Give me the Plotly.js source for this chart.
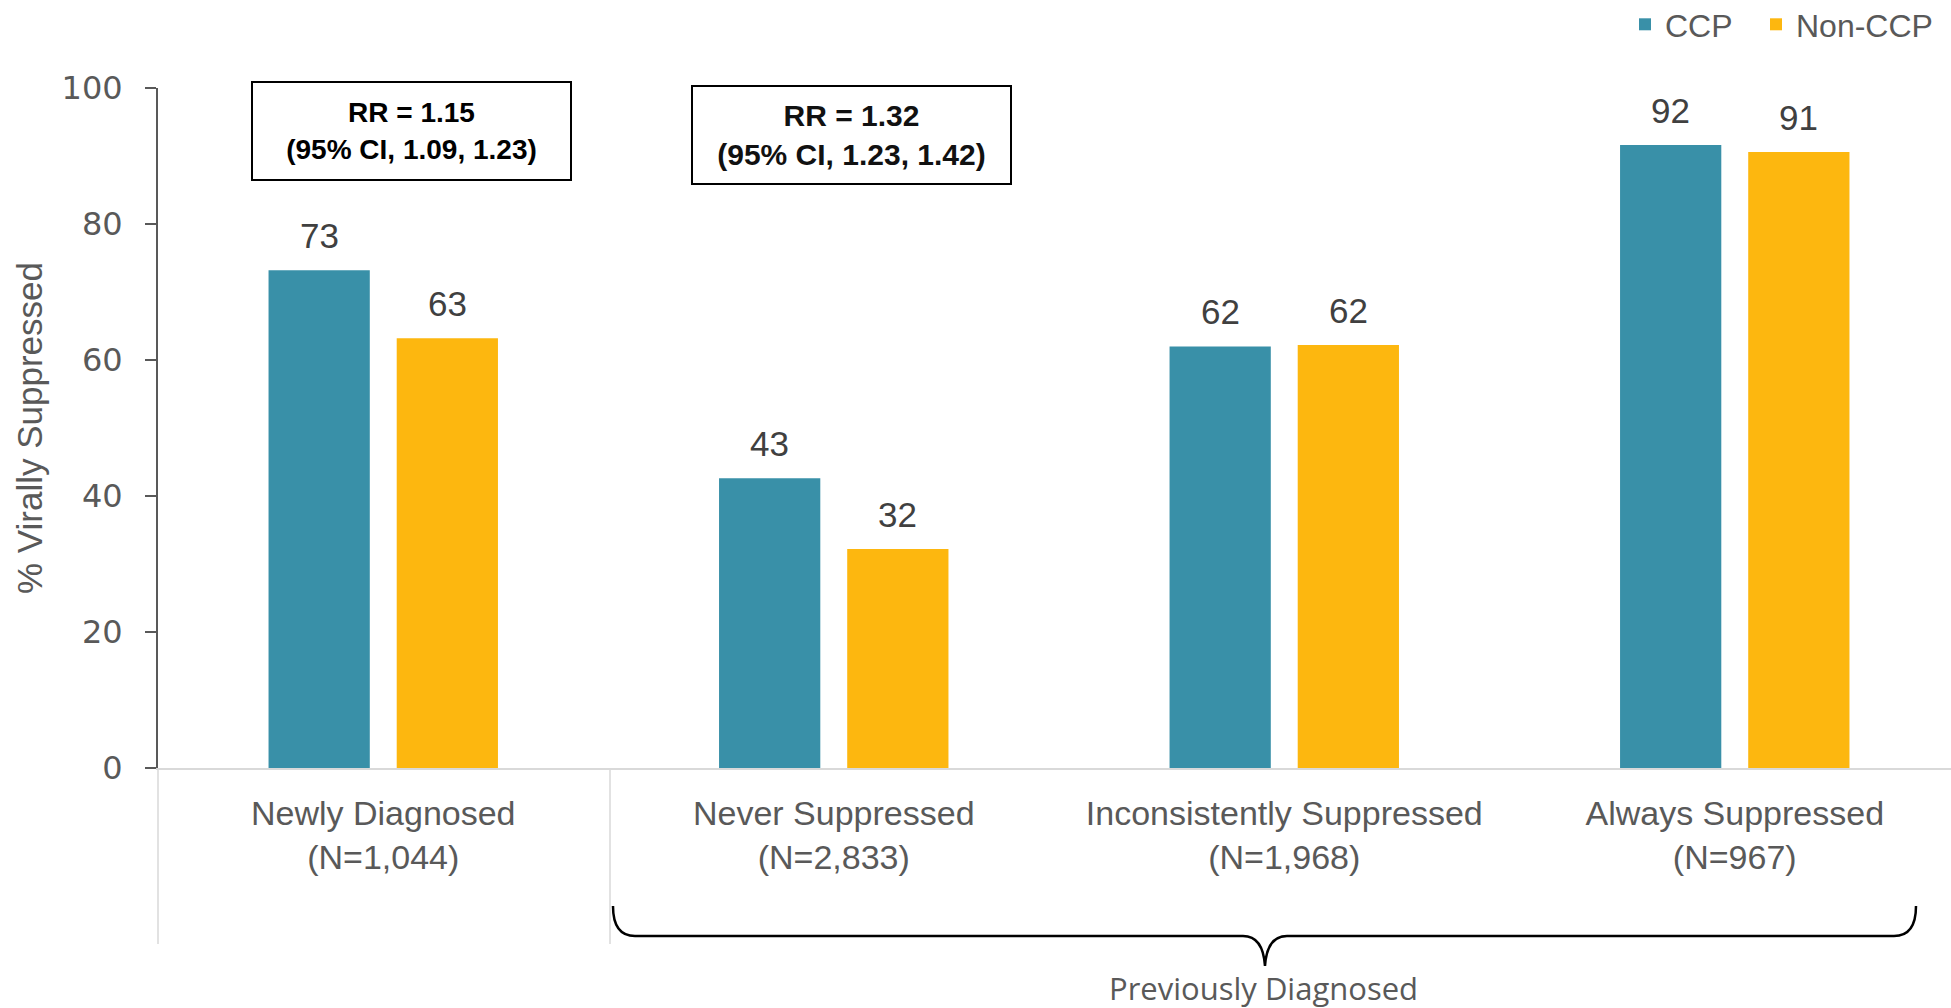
<!DOCTYPE html>
<html>
<head>
<meta charset="utf-8">
<script src="https://cdn.plot.ly/plotly-3.0.1.min.js"></script>
<style>
  html, body { margin: 0; padding: 0; background: #ffffff; }
  #chart { width: 1951px; height: 1008px; }
</style>
</head>
<body>
<div id="chart"></div>
<script>
// ---- Data ----
const categories = [
  'Newly Diagnosed<br>(N=1,044)',
  'Never Suppressed<br>(N=2,833)',
  'Inconsistently Suppressed<br>(N=1,968)',
  'Always Suppressed<br>(N=967)'
];
const seriesNames = ['CCP', 'Non-CCP'];
const ccpValues = [73.2, 42.6, 62.0, 91.6];
const nonCcpValues = [63.2, 32.2, 62.2, 90.6];
const yTickValues = [0, 20, 40, 60, 80, 100];
const rrLines = ['RR = 1.15', 'RR = 1.32'];
const ciLines = ['(95% CI, 1.09, 1.23)', '(95% CI, 1.23, 1.42)'];
const groupLabel = 'Previously Diagnosed';
const yTitle = '% Virally Suppressed';

// ---- Layout geometry ----
const W = 1951, H = 1008;
const M = { l: 158, r: 0, t: 88, b: 240, autoexpand: false };
const plotW = W - M.l - M.r, plotH = H - M.t - M.b;
const px = x => (x - M.l) / plotW;          // pixel -> paper x
const py = y => (H - M.b - y) / plotH;      // pixel -> paper y

const BARGAP = 0.431;
const BARGROUPGAP = 0.21;
const offset = (1 - BARGAP) / 4;            // centre offset of each bar in a group

const colors = ['#3990A8', '#FDB70F'];
const grey = '#595959';
const FONT = '"Liberation Sans", Arial, sans-serif';
const TICKFONT = '"DejaVu Sans", Verdana, sans-serif';

const traces = [
  { type: 'bar', name: seriesNames[0], x: categories, y: ccpValues, legend: 'legend',
    marker: { color: colors[0] }, hoverinfo: 'none' },
  { type: 'bar', name: seriesNames[1], x: categories, y: nonCcpValues, legend: 'legend2',
    marker: { color: colors[1] }, hoverinfo: 'none' }
];

const annotations = [];
// value labels above the bars
[ccpValues, nonCcpValues].forEach((vals, s) => {
  vals.forEach((v, i) => {
    annotations.push({
      xref: 'x', yref: 'y', x: i + (s === 0 ? -offset : offset), y: v,
      text: String(Math.round(v)), showarrow: false,
      xanchor: 'center', yanchor: 'bottom', yshift: 13,
      font: { family: FONT, size: 35, color: '#404040' }
    });
  });
});
// RR boxes
const boxCenters = [[411, 131], [851, 135]];
const boxFonts = [
  { family: '"Liberation Sans Narrow", "Liberation Sans", Arial, sans-serif', size: 28, color: '#000000' },
  { family: FONT, size: 30, color: '#111111' }
];
rrLines.forEach((t, i) => {
  annotations.push({
    xref: 'paper', yref: 'paper', x: px(boxCenters[i][0]), y: py(boxCenters[i][1]),
    xanchor: 'center', yanchor: 'middle',
    text: '<b>' + t + '</b><br><b>' + ciLines[i] + '</b>',
    showarrow: false, align: 'center',
    width: 317, height: 96, borderpad: 0,
    bordercolor: '#000000', borderwidth: 2, bgcolor: '#ffffff',
    font: boxFonts[i]
  });
});
// Previously diagnosed label
annotations.push({
  xref: 'paper', yref: 'paper', x: px(1263), y: py(988),
  xanchor: 'center', yanchor: 'middle', showarrow: false,
  text: groupLabel, borderpad: 0,
  font: { family: '"Open Sans", sans-serif', size: 31, color: grey }
});

// brace under previously diagnosed groups
const P = (x, y) => px(x).toFixed(5) + ',' + py(y).toFixed(5);
const bracePath =
  'M' + P(613, 906) + ' Q' + P(613, 936) + ' ' + P(635, 936) +
  ' L' + P(1243, 936) + ' Q' + P(1263, 936) + ' ' + P(1265, 966) +
  ' Q' + P(1267, 936) + ' ' + P(1287, 936) +
  ' L' + P(1894, 936) + ' Q' + P(1916, 936) + ' ' + P(1916, 906);

const shapes = [
  { type: 'line', xref: 'paper', yref: 'paper', x0: px(158), x1: px(158), y0: py(768), y1: py(944),
    line: { color: '#d9d9d9', width: 1.5 } },
  { type: 'line', xref: 'paper', yref: 'paper', x0: px(610), x1: px(610), y0: py(768), y1: py(944),
    line: { color: '#d9d9d9', width: 1.5 } },
  { type: 'path', xref: 'paper', yref: 'paper', path: bracePath,
    line: { color: '#000000', width: 2.5 } }
];

const legendCommon = {
  orientation: 'h', xanchor: 'left', yanchor: 'top',
  font: { family: FONT, size: 32, color: grey },
  bgcolor: 'rgba(0,0,0,0)', itemclick: false, itemdoubleclick: false
};

const layout = {
  width: W, height: H,
  margin: M,
  paper_bgcolor: '#ffffff', plot_bgcolor: '#ffffff',
  barmode: 'group', bargap: BARGAP, bargroupgap: BARGROUPGAP,
  font: { family: FONT, color: grey },
  showlegend: true,
  legend: Object.assign({}, legendCommon, { x: px(1625), y: py(-3) }),
  legend2: Object.assign({}, legendCommon, { x: px(1756), y: py(-3) }),
  xaxis: {
    type: 'category', range: [-0.5, 3.48], fixedrange: true,
    showline: true, linecolor: '#d9d9d9', linewidth: 2,
    ticks: '', showgrid: false, zeroline: false,
    tickfont: { family: FONT, size: 34, color: grey },
    ticklabelstandoff: 14
  },
  yaxis: {
    range: [0, 100], fixedrange: true,
    tickmode: 'array', tickvals: yTickValues, ticktext: yTickValues.map(String),
    showline: true, linecolor: grey, linewidth: 2,
    ticks: 'outside', ticklen: 11, tickwidth: 2, tickcolor: grey,
    showgrid: false, zeroline: false,
    tickfont: { family: TICKFONT, size: 32, color: grey },
    ticklabelstandoff: 16,
    title: { text: yTitle, font: { family: FONT, size: 35, color: grey }, standoff: 8 }
  },
  annotations: annotations,
  shapes: shapes
};

Plotly.newPlot('chart', traces, layout, { displayModeBar: false, responsive: false });
</script>
</body>
</html>
